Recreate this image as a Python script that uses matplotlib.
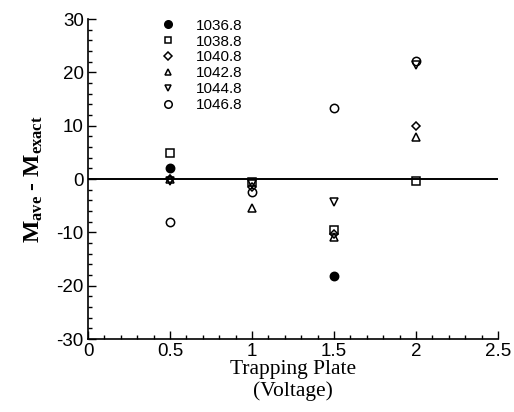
import numpy as np
import matplotlib
matplotlib.use("Agg")
import matplotlib.pyplot as plt
from matplotlib.ticker import MultipleLocator

plt.rcParams['mathtext.fontset'] = 'custom'
plt.rcParams['mathtext.rm'] = 'Liberation Serif'
plt.rcParams['mathtext.bf'] = 'Liberation Serif:bold'
plt.rcParams['axes.unicode_minus'] = False

voltage = [0.5, 1.0, 1.5, 2.0]
labels = ['1036.8', '1038.8', '1040.8', '1042.8', '1044.8', '1046.8']
s1036 = [2.0, np.nan, -18.2, np.nan]
s1038 = [4.9, -0.5, -9.6, -0.4]
s1040 = [0.0, -1.5, -10.4, 9.9]
s1042 = [0.0, -5.5, -10.8, 7.9]
s1044 = [-0.4, -1.0, -4.3, 21.3]
s1046 = [-8.0, -2.4, 13.3, 22.1]
series = [s1036, s1038, s1040, s1042, s1044, s1046]
markers = ['o', 's', 'D', '^', 'v', 'o']
fills = ['black', 'none', 'none', 'none', 'none', 'none']
msizes = [6.0, 5.5, 4.5, 5.5, 5.5, 6.0]

fig = plt.figure(figsize=(5.14, 4.12), dpi=100)
ax = fig.add_axes([88/514, 1-339/412, (498-88)/514, (339-19)/412])

ax.axhline(0, color='black', lw=1.4, zorder=1)
for vals, m, fc, ms, lab in zip(series, markers, fills, msizes, labels):
    ax.plot(voltage, vals, linestyle='none', marker=m, markerfacecolor=fc,
            markeredgecolor='black', markeredgewidth=1.1, markersize=ms,
            label=lab, zorder=3)

ax.set_xlim(0, 2.5)
ax.set_ylim(-30, 30)
ax.xaxis.set_major_locator(MultipleLocator(0.5))
ax.xaxis.set_minor_locator(MultipleLocator(0.1))
ax.yaxis.set_major_locator(MultipleLocator(10))
ax.yaxis.set_minor_locator(MultipleLocator(2))
ax.set_xticks([0, 0.5, 1, 1.5, 2, 2.5])
ax.set_xticklabels(['0', '0.5', '1', '1.5', '2', '2.5'])
ax.tick_params(which='major', direction='in', length=6, width=1, labelsize=13.5, pad=3)
ax.tick_params(which='minor', direction='in', length=3, width=1)
for lbl in ax.get_xticklabels() + ax.get_yticklabels():
    lbl.set_fontfamily('Liberation Sans')
ax.spines['top'].set_visible(False)
ax.spines['right'].set_visible(False)
ax.spines['left'].set_linewidth(1.2)
ax.spines['bottom'].set_linewidth(1.2)

ax.set_xlabel('Trapping Plate\n(Voltage)', fontfamily='Liberation Serif',
              fontsize=15.5, linespacing=1.15, labelpad=0)
ax.set_ylabel(r'$\mathbf{M_{ave}}$ - $\mathbf{M_{exact}}$', fontsize=17,
              fontfamily='Liberation Serif', fontweight='bold', labelpad=8)

leg = ax.legend(loc='upper left', bbox_to_anchor=(150/514, 1-8/412),
                bbox_transform=fig.transFigure, frameon=False,
                prop={'family': 'Liberation Sans', 'size': 11},
                handlelength=1.0, handletextpad=1.3, labelspacing=0.12,
                borderpad=0.2, markerscale=0.9)

fig.savefig('out.png', dpi=100)
